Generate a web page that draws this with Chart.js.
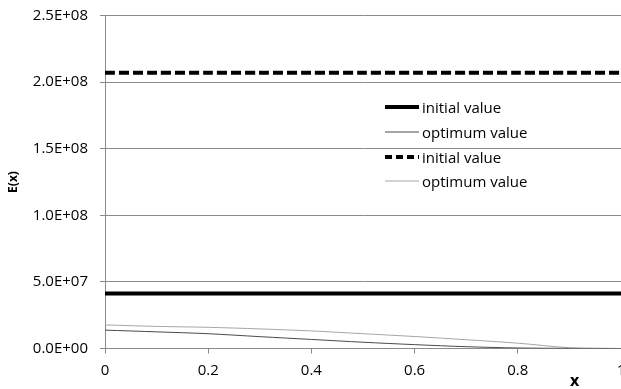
<!DOCTYPE html>
<html>
<head>
<meta charset="utf-8">
<script src="https://cdn.jsdelivr.net/npm/chart.js@4"></script>
<style>
  html, body { margin: 0; padding: 0; background: #fff; }
  #wrap { position: relative; width: 621px; height: 389px; }
  #legend { position: absolute; left: 385px; top: 95px; font-family: "Open Sans", sans-serif; font-size: 15px; color: #000; }
  #legend .row { display: flex; align-items: center; height: 24.7px; }
  #legend svg { width: 34px; height: 8px; margin-right: 3px; }
</style>
</head>
<body>
<div id="wrap">
  <canvas id="myChart" width="621" height="389"></canvas>
  <div id="legend"></div>
</div>
<script>
// значения
var xValues = [0, 0.1, 0.2, 0.3, 0.4, 0.5, 0.6, 0.7, 0.8, 0.9, 1];
var initial1 = [4.12e7, 4.12e7, 4.12e7, 4.12e7, 4.12e7, 4.12e7, 4.12e7, 4.12e7, 4.12e7, 4.12e7, 4.12e7];
var optimum1 = [1.38e7, 1.25e7, 1.11e7, 8.9e6, 6.8e6, 4.7e6, 2.9e6, 1.35e6, 4e5, 1e5, 0];
var initial2 = [2.07e8, 2.07e8, 2.07e8, 2.07e8, 2.07e8, 2.07e8, 2.07e8, 2.07e8, 2.07e8, 2.07e8, 2.07e8];
var optimum2 = [1.77e7, 1.66e7, 1.59e7, 1.47e7, 1.32e7, 1.11e7, 9.0e6, 6.6e6, 4.0e6, 6e5, 0];
var seriesLabels = ["initial value", "optimum value", "initial value", "optimum value"];
var yTicks = [0, 5e7, 1e8, 1.5e8, 2e8, 2.5e8];
var xTicks = [0, 0.2, 0.4, 0.6, 0.8, 1];

function pts(arr) {
  return xValues.map(function (x, i) { return { x: x, y: arr[i] }; });
}

function sci(v) {
  var s = v.toExponential(1).split("e");
  var e = parseInt(s[1], 10);
  return s[0] + "E" + (e < 0 ? "-" : "+") + (Math.abs(e) < 10 ? "0" : "") + Math.abs(e);
}

var gridColor = "#8a8a8a";
var font = { family: "'Open Sans', sans-serif", size: 15 };

// подпись оси x стоит справа, а не по центру
var xTitlePlugin = {
  id: "xTitle",
  afterDraw: function (chart) {
    var ctx = chart.ctx;
    var xs = chart.scales.x;
    ctx.save();
    ctx.font = "bold 16px 'Open Sans', sans-serif";
    ctx.fillStyle = "#000";
    ctx.textAlign = "center";
    ctx.textBaseline = "middle";
    ctx.fillText("x", xs.getPixelForValue(0.91), 381);
    ctx.restore();
  },
};

var chart = new Chart("myChart", {
  type: "line",
  data: {
    datasets: [
      { label: seriesLabels[0], data: pts(initial1), borderColor: "#000", borderWidth: 4 },
      { label: seriesLabels[1], data: pts(optimum1), borderColor: "#4a4a4a", borderWidth: 1 },
      { label: seriesLabels[2], data: pts(initial2), borderColor: "#000", borderWidth: 4, borderDash: [10, 4] },
      { label: seriesLabels[3], data: pts(optimum2), borderColor: "#a5a5a5", borderWidth: 1 },
    ],
  },
  options: {
    responsive: false,
    animation: false,
    layout: { padding: { top: 15.5, right: 0, bottom: 0, left: 0 } },
    elements: { point: { radius: 0 }, line: { tension: 0.3, fill: false } },
    plugins: { legend: { display: false }, tooltip: { enabled: false } },
    scales: {
      x: {
        type: "linear",
        min: 0,
        max: 1,
        afterBuildTicks: function (s) { s.ticks = xTicks.map(function (v) { return { value: v }; }); },
        afterFit: function (s) { s.height = 40.5; s.paddingRight = 0; s.paddingLeft = 0; },
        ticks: {
          font: font,
          color: "#000",
          padding: 8,
          maxRotation: 0,
          callback: function (v) { return v === 0 ? "0" : String(+v.toFixed(1)); },
        },
        grid: { drawOnChartArea: false, drawTicks: true, tickLength: 5, color: gridColor },
        border: { color: gridColor },
      },
      y: {
        min: 0,
        max: 2.5e8,
        afterBuildTicks: function (s) { s.ticks = yTicks.map(function (v) { return { value: v }; }); },
        afterFit: function (s) { s.width = 105; s.paddingTop = 0; s.paddingBottom = 0; },
        ticks: { font: font, color: "#000", padding: 12, callback: function (v) { return sci(v); } },
        grid: { color: gridColor, tickLength: 5 },
        border: { color: gridColor },
        title: {
          display: true,
          text: "E(x)",
          color: "#000",
          font: { family: "'Open Sans', sans-serif", size: 12, weight: "bold" },
          padding: { top: 6, bottom: 0 },
        },
      },
    },
  },
  plugins: [xTitlePlugin],
});

// легенда внутри поля графика
var legendBox = document.getElementById("legend");
chart.data.datasets.forEach(function (ds) {
  var row = document.createElement("div");
  row.className = "row";
  var dash = ds.borderDash ? ' stroke-dasharray="7,4"' : "";
  row.innerHTML =
    '<svg viewBox="0 0 34 8"><line x1="0" y1="4" x2="34" y2="4" stroke="' + ds.borderColor +
    '" stroke-width="' + ds.borderWidth + '"' + dash + "/></svg><span>" + ds.label + "</span>";
  legendBox.appendChild(row);
});
</script>
</body>
</html>
